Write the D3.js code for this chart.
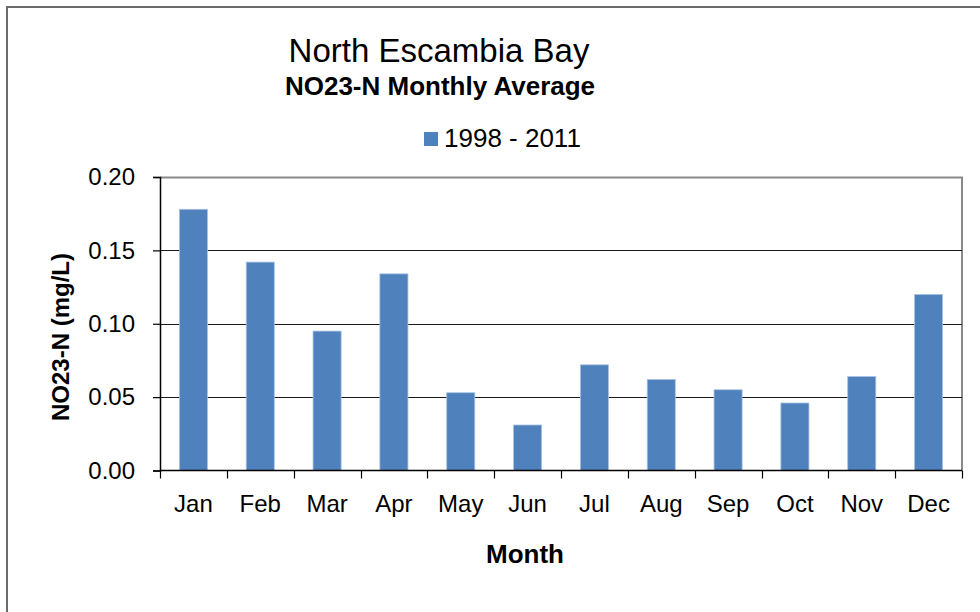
<!DOCTYPE html>
<html>
<head>
<meta charset="utf-8">
<script src="https://cdnjs.cloudflare.com/ajax/libs/d3/7.8.5/d3.min.js"></script>
<style>
  body { margin: 0; background: #fff; }
  text { font-family: "Liberation Sans", Arial, sans-serif; fill: #000; }
</style>
</head>
<body>
<div id="graph_draw"></div>
<script>
// data
var months = ["Jan", "Feb", "Mar", "Apr", "May", "Jun", "Jul", "Aug", "Sep", "Oct", "Nov", "Dec"];
var no23 = [0.178, 0.142, 0.095, 0.134, 0.053, 0.031, 0.072, 0.062, 0.055, 0.046, 0.064, 0.120];
var yTicks = [0, 0.05, 0.10, 0.15, 0.20];
var seriesName = "1998 - 2011";

function draw_chart() {
    var W = 980, H = 612;
    // plot area
    var pLeft = 160, pRight = 962, pTop = 177, pBottom = 470.5;

    var svg = d3.select("#graph_draw").append("svg")
        .attr("width", W)
        .attr("height", H);

    // outer chart frame (runs off the right and bottom of the picture)
    svg.append("rect")
        .attr("x", 7).attr("y", 7)
        .attr("width", W + 20).attr("height", H + 20)
        .attr("fill", "none")
        .attr("stroke", "#6b6b6b")
        .attr("stroke-width", 2);

    // scales
    var x = d3.scaleBand().domain(months).range([pLeft, pRight])
        .paddingInner(0.58).paddingOuter(0.29);
    var y = d3.scaleLinear().domain([0, 0.2]).range([pBottom, pTop]);

    // plot border, top and right in grey
    svg.append("path")
        .attr("d", "M" + pLeft + "," + (pTop + 0.5) + "H" + pRight + "V" + pBottom)
        .attr("fill", "none")
        .attr("stroke", "#8a8a8a")
        .attr("stroke-width", 2);

    // gridlines
    svg.append("g").selectAll("line")
        .data(yTicks.filter(function(d) { return d > 0 && d < 0.2; }))
        .enter().append("line")
        .attr("x1", pLeft).attr("x2", pRight)
        .attr("y1", function(d) { return Math.round(y(d)) + 0.5; })
        .attr("y2", function(d) { return Math.round(y(d)) + 0.5; })
        .attr("stroke", "#1a1a1a")
        .attr("stroke-width", 1.2);

    // bars
    svg.append("g").selectAll("rect")
        .data(no23)
        .enter().append("rect")
        .attr("x", function(d, i) { return x(months[i]); })
        .attr("y", function(d) { return y(d); })
        .attr("width", x.bandwidth())
        .attr("height", function(d) { return pBottom - y(d); })
        .attr("fill", "#4f81bd")
        .attr("stroke", "#a9c2e3")
        .attr("stroke-width", 0.8);

    // Y axis
    var yAxis = svg.append("g")
        .attr("transform", "translate(" + pLeft + ",0)")
        .call(d3.axisLeft(y).tickValues(yTicks).tickFormat(d3.format(".2f")).tickSize(7).tickPadding(18));
    yAxis.select(".domain").attr("stroke", "#000").attr("stroke-width", 1.5);
    yAxis.selectAll(".tick line").attr("stroke", "#000").attr("stroke-width", 1.2);
    yAxis.selectAll("text").style("font-size", "24px").attr("fill", "#000");

    // X axis, ticks on the category boundaries
    var xAxis = svg.append("g")
        .attr("transform", "translate(0," + pBottom + ")");
    xAxis.append("line")
        .attr("x1", pLeft).attr("x2", pRight)
        .attr("stroke", "#000").attr("stroke-width", 1.5);
    xAxis.selectAll(".bt")
        .data(d3.range(months.length + 1))
        .enter().append("line")
        .attr("class", "bt")
        .attr("x1", function(i) { return Math.round(pLeft + i * x.step()) + 0.5; })
        .attr("x2", function(i) { return Math.round(pLeft + i * x.step()) + 0.5; })
        .attr("y1", 0).attr("y2", 8)
        .attr("stroke", "#000").attr("stroke-width", 1.2);
    xAxis.selectAll(".ml")
        .data(months)
        .enter().append("text")
        .attr("class", "ml")
        .attr("x", function(d) { return x(d) + x.bandwidth() / 2; })
        .attr("y", 41)
        .attr("text-anchor", "middle")
        .style("font-size", "24px")
        .text(function(d) { return d; });

    // titles
    svg.append("text")
        .attr("x", 439).attr("y", 62)
        .attr("text-anchor", "middle")
        .style("font-size", "33px")
        .text("North Escambia Bay");
    svg.append("text")
        .attr("x", 440).attr("y", 95)
        .attr("text-anchor", "middle")
        .style("font-size", "26px").style("font-weight", "bold")
        .text("NO23-N Monthly Average");

    // legend
    svg.append("rect")
        .attr("x", 424).attr("y", 132)
        .attr("width", 14).attr("height", 14)
        .attr("fill", "#4f81bd");
    svg.append("text")
        .attr("x", 444).attr("y", 147)
        .style("font-size", "26px")
        .text(seriesName);

    // axis titles
    svg.append("text")
        .attr("x", 525).attr("y", 563)
        .attr("text-anchor", "middle")
        .style("font-size", "26px").style("font-weight", "bold")
        .text("Month");
    svg.append("text")
        .attr("transform", "translate(69,337) rotate(-90)")
        .attr("text-anchor", "middle")
        .style("font-size", "24px").style("font-weight", "bold")
        .text("NO23-N (mg/L)");
}

draw_chart();
</script>
</body>
</html>
